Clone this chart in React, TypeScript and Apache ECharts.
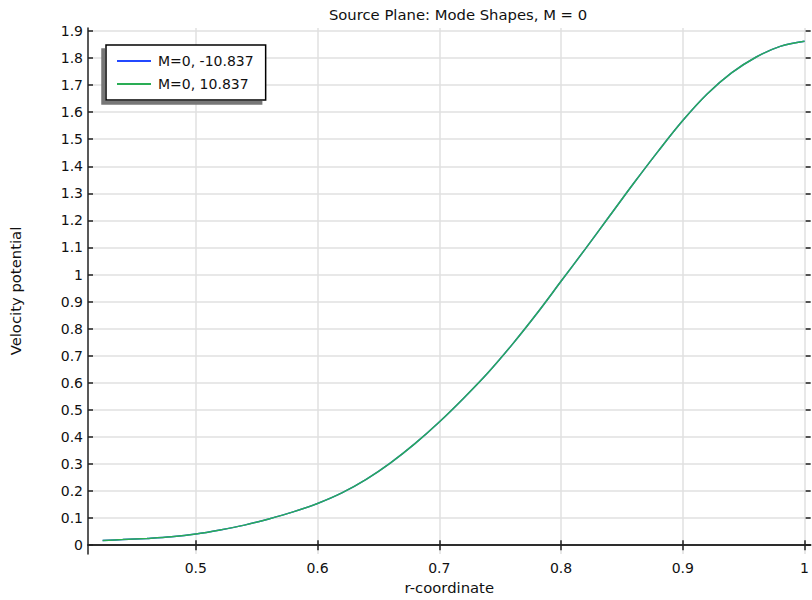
import React, { useEffect, useRef } from "react";
import * as echarts from "echarts";

const titleText = "Source Plane: Mode Shapes, M = 0";
const seriesNames = ["M=0, -10.837", "M=0, 10.837"];
const rValues = [0.4235, 0.44, 0.46, 0.48, 0.5, 0.52, 0.54, 0.56, 0.58, 0.6, 0.62, 0.64, 0.66, 0.68, 0.7, 0.72, 0.74, 0.76, 0.78, 0.8, 0.82, 0.84, 0.86, 0.88, 0.9, 0.92, 0.94, 0.96, 0.98, 1.0];
const phiValues = [0.0175, 0.0205, 0.025, 0.031, 0.041, 0.056, 0.074, 0.097, 0.123, 0.154, 0.193, 0.243, 0.304, 0.375, 0.455, 0.543, 0.637, 0.742, 0.855, 0.975, 1.095, 1.217, 1.339, 1.457, 1.569, 1.667, 1.745, 1.803, 1.843, 1.862];
const xTicks = [0.5, 0.6, 0.7, 0.8, 0.9, 1];
const yTicks = [0, 0.1, 0.2, 0.3, 0.4, 0.5, 0.6, 0.7, 0.8, 0.9, 1, 1.1, 1.2, 1.3, 1.4, 1.5, 1.6, 1.7, 1.8, 1.9];

const FONT = "DejaVu Sans";
const FS = 14;
const FS_NAME = 14.8;

export default function App() {
  const ref = useRef<HTMLDivElement>(null);
  useEffect(() => {
    if (!ref.current) return;
    const chart = echarts.init(ref.current, undefined, { renderer: "svg" });
    const data = rValues.map((r, i) => [r, phiValues[i]]);
    const axisLine = { show: true, lineStyle: { color: "#222", width: 1.5 } };
    const tick = (vals: number[]) => ({ show: true, inside: true, length: 5, customValues: vals, lineStyle: { color: "#222", width: 1.5 } });
    chart.setOption({
      animation: false,
      backgroundColor: "#fff",
      title: {
        text: titleText,
        left: 453,
        top: 2,
        textAlign: "center",
        textStyle: { fontFamily: FONT, fontSize: FS_NAME, fontWeight: "normal", color: "#111" },
      },
      legend: {
        left: 106,
        top: 45,
        orient: "vertical",
        padding: [9, 12, 9, 10],
        itemGap: 9,
        itemWidth: 34,
        itemHeight: 14,
        backgroundColor: "#fff",
        borderColor: "#000",
        borderWidth: 1.5,
        borderRadius: 0,
        shadowColor: "#777",
        shadowBlur: 0,
        shadowOffsetX: -4,
        shadowOffsetY: 4,
        itemStyle: { opacity: 0 },
        textStyle: { fontFamily: FONT, fontSize: FS, color: "#111", padding: [0, 0, 0, 2] },
        data: seriesNames,
      },
      grid: { left: 88, right: 1, top: 28, bottom: 41, containLabel: false },
      xAxis: [
        {
          type: "value",
          min: 0.4115,
          max: 1.005,
          name: "r-coordinate",
          nameLocation: "middle",
          nameGap: 24,
          nameTextStyle: { fontFamily: FONT, fontSize: FS_NAME, color: "#111" },
          axisLine,
          axisTick: tick(xTicks),
          axisLabel: { customValues: xTicks, fontFamily: FONT, fontSize: FS, color: "#111", margin: 7, formatter: (v: number) => String(v) },
          splitLine: { show: true, lineStyle: { color: "#e0e0e0", width: 1.5 } },
        },
        {
          type: "value",
          position: "top",
          min: 0.4115,
          max: 1.005,
          axisLine,
          axisTick: tick(xTicks),
          axisLabel: { show: false },
          splitLine: { show: false },
        },
      ],
      yAxis: [
        {
          type: "value",
          min: -0.033,
          max: 1.911,
          name: "Velocity potential",
          nameLocation: "middle",
          nameGap: 65,
          nameTextStyle: { fontFamily: FONT, fontSize: FS_NAME, color: "#111" },
          axisLine,
          axisTick: tick(yTicks),
          axisLabel: { customValues: yTicks, fontFamily: FONT, fontSize: FS, color: "#111", margin: 5, formatter: (v: number) => String(v) },
          splitLine: { show: true, lineStyle: { color: "#e0e0e0", width: 1.5 } },
        },
        {
          type: "value",
          position: "right",
          min: -0.033,
          max: 1.911,
          axisLine: { show: false },
          axisTick: tick(yTicks),
          axisLabel: { show: false },
          splitLine: { show: false },
        },
      ],
      series: [
        {
          name: seriesNames[0],
          type: "line",
          data,
          symbol: "none",
          smooth: 0.35,
          lineStyle: { color: "#2348ff", width: 1.5 },
          itemStyle: { color: "#2348ff" },
        },
        {
          name: seriesNames[1],
          type: "line",
          data,
          symbol: "none",
          smooth: 0.35,
          lineStyle: { color: "#2aad55", width: 1.5 },
          itemStyle: { color: "#3cc43c" },
        },
      ],
    });
    return () => chart.dispose();
  }, []);
  return <div ref={ref} style={{ width: 812, height: 600, position: "absolute", left: 0, top: 0 }} />;
}
